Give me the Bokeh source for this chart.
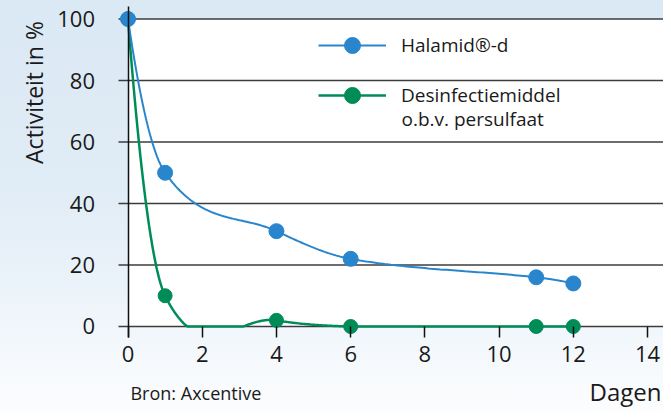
import numpy as np
from bokeh.plotting import figure
from bokeh.models import (Range1d, FixedTicker, BoxAnnotation, Label,
                          Legend, LegendItem)
from bokeh.embed import file_html
from bokeh.resources import INLINE

# ---- data ----
days_halamid = [0, 1, 4, 6, 11, 12]
act_halamid = [100, 50, 31, 22, 16, 14]
days_persulf = [0, 1, 4, 6, 11, 12]
act_persulf = [100, 10, 2, 0, 0, 0]
x_ticks = [0, 2, 4, 6, 8, 10, 12, 14]
y_ticks = [0, 20, 40, 60, 80, 100]
label_halamid = "Halamid®-d"
label_persulf_1 = "Desinfectiemiddel"
label_persulf_2 = "o.b.v. persulfaat"

BLUE = "#2a86cc"
GREEN = "#008c57"
TEXT = "#1a1a1a"
FONT = "Open Sans"


def smooth(xs, ys, n=60, floor=None):
    """Cubic Hermite (Catmull-Rom style) curve through the data points."""
    xs = np.asarray(xs, float)
    ys = np.asarray(ys, float)
    k = len(xs)
    m = np.zeros(k)
    for i in range(1, k - 1):
        m[i] = (ys[i + 1] - ys[i - 1]) / (xs[i + 1] - xs[i - 1])
    m[0] = 2 * (ys[1] - ys[0]) / (xs[1] - xs[0]) - m[1]
    m[-1] = 2 * (ys[-1] - ys[-2]) / (xs[-1] - xs[-2]) - m[-2]
    out_x, out_y = [], []
    for i in range(k - 1):
        h = xs[i + 1] - xs[i]
        t = np.linspace(0, 1, n, endpoint=(i == k - 2))
        h00 = 2 * t**3 - 3 * t**2 + 1
        h10 = t**3 - 2 * t**2 + t
        h01 = -2 * t**3 + 3 * t**2
        h11 = t**3 - t**2
        yy = h00 * ys[i] + h10 * h * m[i] + h01 * ys[i + 1] + h11 * h * m[i + 1]
        out_x.extend(xs[i] + t * h)
        out_y.extend(yy)
    out_y = np.asarray(out_y)
    if floor is not None:
        out_y = np.maximum(out_y, floor)
    return list(out_x), list(out_y)


W, H = 663, 412
X0, X1 = -3.436, 14.43
Y0, Y1 = -27.97, 106.02
AXIS_BOTTOM = -3.58
AXIS_TOP = 104.07
GRID_LEFT = -0.256

p = figure(width=W, height=H, output_backend="svg", toolbar_location=None,
           x_range=Range1d(X0, X1), y_range=Range1d(Y0, Y1),
           min_border_left=0, min_border_right=0, min_border_top=0,
           min_border_bottom=0)
p.border_fill_alpha = 0
p.background_fill_alpha = 0
p.outline_line_color = None
p.styles = {"background": "linear-gradient(to bottom, #dbe9f4 0%, #e0ecf6 45%, #eef5fb 75%, #fcfdfe 100%)"}
p.xgrid.visible = False
p.ygrid.visible = False

# white plotting area
p.add_layout(BoxAnnotation(left=0, bottom=0, top=100, fill_color="white",
                           fill_alpha=1, line_color=None, level="image"))

# horizontal grid lines at the y ticks
p.segment(x0=[GRID_LEFT] * len(y_ticks), x1=[X1] * len(y_ticks),
          y0=y_ticks, y1=y_ticks, line_color="#3c3c3c", line_width=1.5)

# axes
yax = p.yaxis[0]
xax = p.xaxis[0]
xax.ticker = FixedTicker(ticks=x_ticks)
yax.ticker = FixedTicker(ticks=y_ticks)
for ax in (xax, yax):
    ax.minor_tick_line_color = None
    ax.major_label_text_font = FONT
    ax.major_label_text_font_size = "22px"
    ax.major_label_text_color = TEXT
yax.fixed_location = 0
yax.bounds = (AXIS_BOTTOM, AXIS_TOP)
yax.axis_line_color = "#111111"
yax.axis_line_width = 1.5
yax.major_tick_line_color = None
yax.major_label_standoff = 27

xax.fixed_location = AXIS_BOTTOM
xax.axis_line_color = None
xax.major_tick_in = 11
xax.major_tick_out = 0
xax.major_tick_line_color = "#111111"
xax.major_tick_line_width = 1.5
xax.major_label_standoff = 8

# series
gx, gy = smooth(days_persulf, act_persulf, floor=0)
bx, by = smooth(days_halamid, act_halamid)
gl = p.line(gx, gy, line_color=GREEN, line_width=2.5)
gs = p.scatter(days_persulf, act_persulf, size=14, fill_color=GREEN,
               line_color=GREEN)
bl = p.line(bx, by, line_color=BLUE, line_width=2)
bs = p.scatter(days_halamid, act_halamid, size=15, fill_color=BLUE,
               line_color=BLUE)

legend = Legend(items=[LegendItem(label=label_halamid, renderers=[bl, bs]),
                       LegendItem(label=label_persulf_1, renderers=[gl, gs])],
                location=(318, 297), orientation="vertical",
                glyph_width=68, glyph_height=40, label_height=40,
                label_standoff=15, spacing=10, padding=0, margin=0,
                border_line_alpha=0, background_fill_alpha=0,
                label_text_font=FONT, label_text_font_size="19px",
                label_text_color=TEXT)
p.add_layout(legend)

p.add_layout(Label(x=7.37, y=67.6, text=label_persulf_2, text_font=FONT,
                   text_font_size="19px", text_color=TEXT,
                   text_align="left", text_baseline="middle"))

p.add_layout(Label(x=-2.546, y=76.1, text="Activiteit in %", angle=np.pi / 2,
                   text_font=FONT, text_font_size="23px", text_color=TEXT,
                   text_align="center", text_baseline="middle"))
p.add_layout(Label(x=0.067, y=-21.5, text="Bron: Axcentive", text_font=FONT,
                   text_font_size="18px", text_color=TEXT,
                   text_align="left", text_baseline="middle"))
p.add_layout(Label(x=14.376, y=-21.0, text="Dagen", text_font=FONT,
                   text_font_size="24px", text_color=TEXT,
                   text_align="right", text_baseline="middle"))

open("out.html", "w").write(file_html(p, INLINE))
